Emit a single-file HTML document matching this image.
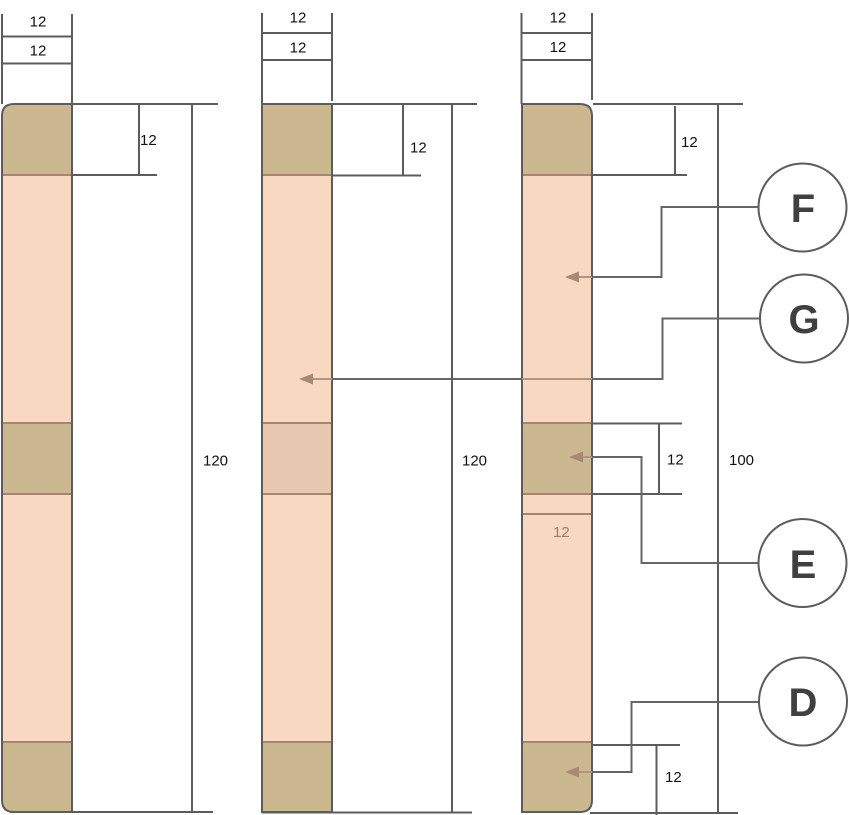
<!DOCTYPE html>
<html><head><meta charset="utf-8"><style>
html,body{margin:0;padding:0;background:#fff;}
svg{display:block;}
text{font-family:"Liberation Sans",Arial,sans-serif;}
</style></head><body>
<svg width="849" height="815" viewBox="0 0 849 815" xmlns="http://www.w3.org/2000/svg">
<g stroke="#5c5c5c" stroke-width="2" fill="none">
<!-- column1 dims -->
<line x1="2" y1="14" x2="2" y2="104"/>
<line x1="72" y1="14" x2="72" y2="104"/>
<line x1="2" y1="36.5" x2="72" y2="36.5"/>
<line x1="2" y1="63.5" x2="72" y2="63.5"/>
<line x1="72" y1="104" x2="218" y2="104"/>
<line x1="139" y1="104" x2="139" y2="175"/>
<line x1="72" y1="175" x2="157" y2="175"/>
<line x1="192" y1="104" x2="192" y2="812"/>
<line x1="10" y1="812" x2="213" y2="812"/>
<!-- column2 dims -->
<line x1="262" y1="13" x2="262" y2="104"/>
<line x1="332" y1="13" x2="332" y2="101"/>
<line x1="262" y1="33" x2="332" y2="33"/>
<line x1="262" y1="60" x2="332" y2="60"/>
<line x1="262" y1="104" x2="477" y2="104"/>
<line x1="403" y1="104" x2="403" y2="175"/>
<line x1="332" y1="175.5" x2="421" y2="175.5"/>
<line x1="452" y1="104" x2="452" y2="812"/>
<line x1="262" y1="812.5" x2="472" y2="812.5"/>
<!-- column3 dims -->
<line x1="521.5" y1="13" x2="521.5" y2="104"/>
<line x1="592" y1="13" x2="592" y2="100"/>
<line x1="522" y1="33" x2="592" y2="33"/>
<line x1="522" y1="60" x2="592" y2="60"/>
<line x1="593" y1="104" x2="743" y2="104"/>
<line x1="675" y1="106" x2="675" y2="176"/>
<line x1="592" y1="175" x2="687" y2="175"/>
<line x1="718" y1="104" x2="718" y2="812"/>
<line x1="590" y1="813" x2="738" y2="813"/>
<line x1="592" y1="423.5" x2="682" y2="423.5"/>
<line x1="592" y1="494" x2="682" y2="494"/>
<line x1="659" y1="423.5" x2="659" y2="494"/>
<line x1="592" y1="745" x2="680" y2="745"/>
<line x1="656.5" y1="745" x2="656.5" y2="815"/>
</g>

<!-- column 1 -->
<defs>
<clipPath id="c1"><path d="M14,104 H72 V812 H14 Q2,812 2,800 V116 Q2,104 14,104 Z"/></clipPath>
<clipPath id="c3"><path d="M522,104 H580 Q592,104 592,116 V800 Q592,812 580,812 H522 Z"/></clipPath>
</defs>
<g clip-path="url(#c1)">
<rect x="2" y="104" width="70" height="708" fill="#f8d8c0"/>
<rect x="2" y="104" width="70" height="71" fill="#ccb890"/>
<rect x="2" y="423" width="70" height="71" fill="#ccb890"/>
<rect x="2" y="742" width="70" height="70" fill="#ccb890"/>
</g>
<g stroke="#a48570" stroke-width="2">
<line x1="2" y1="175" x2="72" y2="175"/>
<line x1="2" y1="423" x2="72" y2="423"/>
<line x1="2" y1="494" x2="72" y2="494"/>
<line x1="2" y1="742" x2="72" y2="742"/>
</g>
<path d="M14,104 H72 V812 H14 Q2,812 2,800 V116 Q2,104 14,104 Z" fill="none" stroke="#5c5c5c" stroke-width="2"/>

<!-- column 2 -->
<rect x="262" y="104" width="70" height="708" fill="#f8d8c0"/>
<rect x="262" y="104" width="70" height="71" fill="#ccb890"/>
<rect x="262" y="423" width="70" height="71" fill="#e8c8b0"/>
<rect x="262" y="742" width="70" height="70" fill="#ccb890"/>
<g stroke="#a48570" stroke-width="2">
<line x1="262" y1="175" x2="332" y2="175"/>
<line x1="262" y1="423" x2="332" y2="423"/>
<line x1="262" y1="494" x2="332" y2="494"/>
<line x1="262" y1="742" x2="332" y2="742"/>
</g>
<rect x="262" y="104" width="70" height="708" fill="none" stroke="#5c5c5c" stroke-width="2"/>

<!-- column 3 -->
<g clip-path="url(#c3)">
<rect x="522" y="104" width="70" height="708" fill="#f8d8c0"/>
<rect x="522" y="104" width="70" height="71" fill="#ccb890"/>
<rect x="522" y="423" width="70" height="71" fill="#ccb890"/>
<rect x="522" y="742" width="70" height="70" fill="#ccb890"/>
</g>
<g stroke="#a48570" stroke-width="2">
<line x1="522" y1="175" x2="592" y2="175"/>
<line x1="522" y1="423" x2="592" y2="423"/>
<line x1="522" y1="494" x2="592" y2="494"/>
<line x1="522" y1="514" x2="592" y2="514"/>
<line x1="522" y1="742" x2="592" y2="742"/>
</g>
<path d="M522,104 H580 Q592,104 592,116 V800 Q592,812 580,812 H522 Z" fill="none" stroke="#5c5c5c" stroke-width="2"/>

<!-- connectors -->
<g stroke="#666" stroke-width="2" fill="none">
<polyline points="758,207 661.5,207 661.5,277 592,277"/>
<polyline points="760,318.5 662.5,318.5 662.5,379 592,379"/>
<line x1="522" y1="379" x2="332" y2="379"/>
<polyline points="758,563 641.5,563 641.5,457 592,457"/>
<polyline points="759,702 631.5,702 631.5,772 592,772"/>
</g>
<g stroke="#b09682" stroke-width="2" fill="none">
<line x1="592" y1="277" x2="576" y2="277"/>
<line x1="592" y1="379" x2="522" y2="379"/>
<line x1="332" y1="379" x2="310" y2="379"/>
<line x1="592" y1="457" x2="580" y2="457"/>
<line x1="592" y1="772" x2="576" y2="772"/>
</g>
<g fill="#a88a74">
<polygon points="565,277 579,271.5 579,282.5"/>
<polygon points="299,379 313,373.5 313,384.5"/>
<polygon points="569,457 583,451.5 583,462.5"/>
<polygon points="565,772 579,766.5 579,777.5"/>
</g>

<!-- circles -->
<g fill="#fff" stroke="#5c5c5c" stroke-width="2">
<circle cx="802.5" cy="207.5" r="44"/>
<circle cx="804" cy="318.5" r="44"/>
<circle cx="802.5" cy="563" r="44"/>
<circle cx="803" cy="701.5" r="44"/>
</g>
<g font-size="40" font-weight="bold" fill="#404040" text-anchor="middle">
<text x="803" y="222">F</text>
<text x="804" y="333">G</text>
<text x="803" y="578">E</text>
<text x="803" y="716">D</text>
</g>

<!-- labels -->
<g font-size="15" fill="#111">
<text x="38" y="26.5" text-anchor="middle">12</text>
<text x="38" y="55.5" text-anchor="middle">12</text>
<text x="140" y="145">12</text>
<text x="203" y="465.5">120</text>
<text x="298" y="22.5" text-anchor="middle">12</text>
<text x="298" y="52.5" text-anchor="middle">12</text>
<text x="410" y="152.5">12</text>
<text x="462" y="465.5">120</text>
<text x="558" y="22.5" text-anchor="middle">12</text>
<text x="558" y="52" text-anchor="middle">12</text>
<text x="681" y="147">12</text>
<text x="667" y="464.5">12</text>
<text x="729" y="465">100</text>
<text x="665" y="782">12</text>
</g>
<text x="553" y="537" font-size="15" fill="#9a7e6a">12</text>
</svg>
</body></html>
